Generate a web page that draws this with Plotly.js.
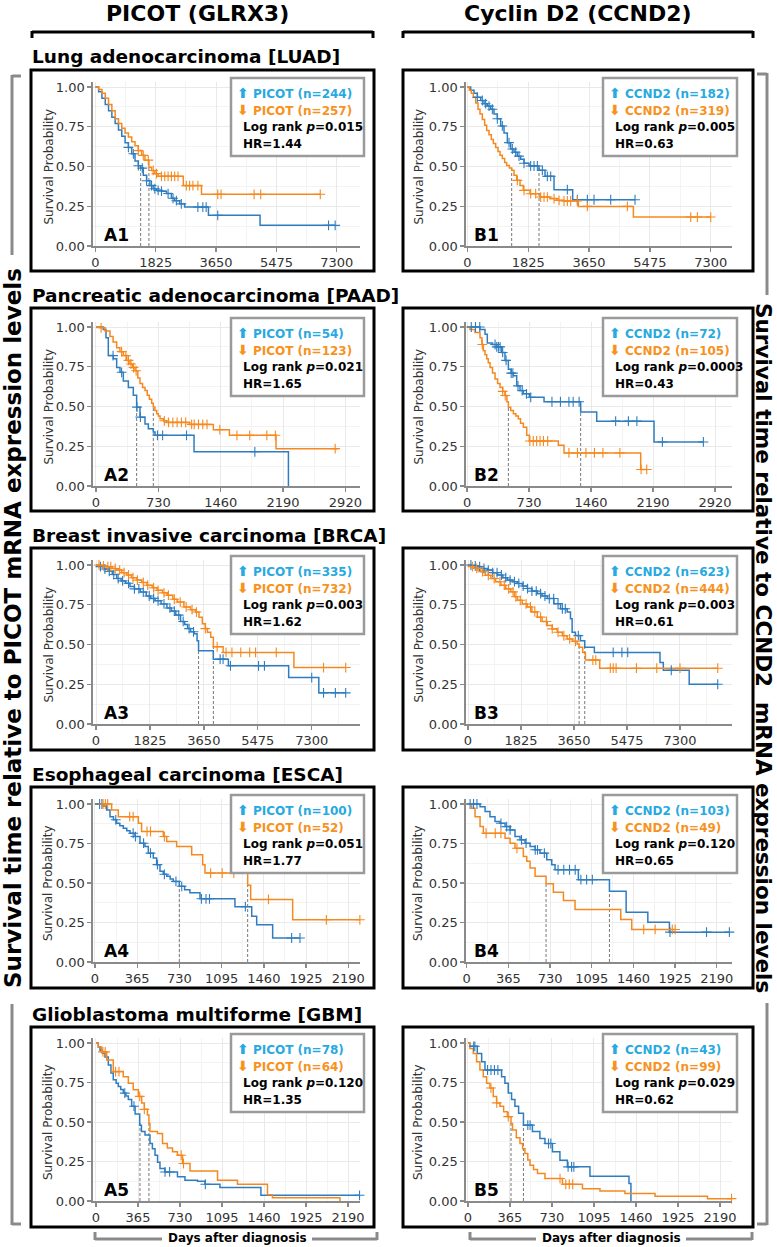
<!DOCTYPE html>
<html><head><meta charset="utf-8">
<script src="https://cdn.plot.ly/plotly-3.0.1.min.js"></script>
<style>body{margin:0;background:#fff}#chart{width:777px;height:1247px}</style>
</head><body><div id="chart"></div><script>
// ---------------- DATA ----------------
const panelLabels = ['A1','B1','A2','B2','A3','B3','A4','B4','A5','B5'];
const rowTitles = ['Lung adenocarcinoma [LUAD]','Pancreatic adenocarcinoma [PAAD]','Breast invasive carcinoma [BRCA]','Esophageal carcinoma [ESCA]','Glioblastoma multiforme [GBM]'];
const genes = ['PICOT','CCND2'];
const nHigh = [244,182,54,72,335,623,100,103,78,43];
const nLow  = [257,319,123,105,732,444,52,49,64,99];
const pVals = ['0.015','0.005','0.021','0.0003','0.003','0.003','0.051','0.120','0.120','0.029'];
const hrVals = ['1.44','0.63','1.65','0.43','1.62','0.61','1.77','0.65','1.35','0.62'];
const ticksLong = [0,1825,3650,5475,7300];
const ticksPAAD = [0,730,1460,2190,2920];
const ticksShort = [0,365,730,1095,1460,1825,2190];
const ticksShortText = ['0','365','730','1095','1460','1925','2190'];
const yTicks = [0,0.25,0.5,0.75,1];
const yTickText = ['0.00','0.25','0.50','0.75','1.00'];
const medHigh = [1371,2150,476,1338,3470,4020,729,1250,382,482];
const medLow  = [1620,1330,671,487,3972,3826,1320,695,460,374];

// A1 LUAD PICOT
const A1_hi_t=[0,100,200,300,400,500,600,700,800,900,1000,1100,1200,1300,1370,1450,1550,1650,1750,1850,2000,2150,2300,2400,2550,2700,3420,4980,7250];
const A1_hi_s=[1,0.97,0.93,0.89,0.85,0.81,0.77,0.73,0.69,0.65,0.62,0.58,0.535,0.505,0.49,0.445,0.41,0.38,0.36,0.35,0.345,0.33,0.30,0.285,0.265,0.245,0.193,0.13,0.13];
const A1_hi_c=[1000,1150,1300,1420,1550,1700,1800,1900,2000,2200,2350,2450,2600,3100,3250,3350,3700,7050,7250];
const A1_lo_t=[0,100,200,300,400,500,600,700,800,900,1000,1100,1200,1300,1400,1500,1620,1700,1800,1900,2660,3210,6800];
const A1_lo_s=[1,0.985,0.96,0.93,0.89,0.85,0.80,0.77,0.74,0.71,0.685,0.655,0.63,0.60,0.57,0.54,0.495,0.475,0.455,0.438,0.38,0.325,0.325];
const A1_lo_c=[1300,1450,1600,1750,1850,2000,2100,2200,2300,2400,2500,2750,2850,2950,3100,3700,3800,4800,5000,6800];
// B1 LUAD CCND2
const B1_hi_t=[0,100,200,300,400,500,600,700,800,900,1000,1100,1200,1300,1400,1500,1600,1700,1850,2150,2330,2600,3160,5030];
const B1_hi_s=[1,0.98,0.96,0.935,0.915,0.895,0.88,0.86,0.83,0.80,0.755,0.71,0.65,0.61,0.59,0.565,0.545,0.52,0.503,0.476,0.438,0.354,0.291,0.291];
const B1_hi_c=[300,450,550,650,750,900,1050,1250,1350,1450,1550,1700,1900,2000,2100,2250,2400,2500,3000,3300,3600,3800,4300,5030];
const B1_lo_t=[0,60,120,180,250,320,380,450,520,580,650,720,780,850,920,980,1050,1120,1180,1260,1330,1400,1480,1580,1680,1880,2180,2480,2680,2880,3330,4980,7300];
const B1_lo_s=[1,0.98,0.96,0.937,0.90,0.86,0.83,0.795,0.76,0.727,0.70,0.67,0.644,0.62,0.595,0.57,0.55,0.525,0.507,0.49,0.476,0.445,0.413,0.38,0.35,0.329,0.308,0.298,0.287,0.283,0.249,0.182,0.182];
const B1_lo_c=[1500,1700,1900,2050,2200,2300,2400,2600,2750,2900,3000,3100,3300,3600,4800,6700,6900,7300];
// A2 PAAD PICOT
const A2_hi_t=[0,86,117,144,203,242,281,320,379,437,476,515,574,613,671,691,1148,2253];
const A2_hi_s=[1,0.985,0.933,0.82,0.80,0.746,0.715,0.66,0.62,0.57,0.496,0.433,0.39,0.36,0.34,0.319,0.215,0];
const A2_hi_c=[200,300,480,520,720,780,1060,1860];
const A2_lo_t=[0,47,105,164,200,242,280,320,360,398,430,457,490,515,545,574,600,625,652,671,690,711,730,750,790,828,1093,1374,1562,2108,2838];
const A2_lo_s=[1,0.995,0.975,0.94,0.905,0.87,0.845,0.82,0.79,0.767,0.745,0.725,0.68,0.645,0.62,0.60,0.57,0.545,0.52,0.497,0.475,0.455,0.44,0.423,0.41,0.40,0.3875,0.354,0.319,0.235,0.235];
const A2_lo_c=[60,300,350,380,410,440,470,800,850,900,950,1000,1050,1120,1150,1200,1250,1300,1450,1650,1800,2000,2100,2800];
// B2 PAAD CCND2
const B2_hi_t=[0,153,212,239,300,349,408,447,487,520,546,585,624,663,734,907,1338,1527,2202,2783];
const B2_hi_s=[1,0.985,0.954,0.90,0.89,0.875,0.84,0.79,0.735,0.71,0.694,0.63,0.60,0.58,0.558,0.53,0.465,0.408,0.277,0.277];
const B2_hi_c=[50,100,150,330,350,370,390,420,460,520,540,600,650,700,750,1000,1100,1200,1250,1320,1750,1900,2000,2300,2783];
const B2_lo_t=[0,35,94,153,175,192,212,232,250,271,300,330,360,389,420,447,470,487,515,546,575,604,630,663,703,734,1075,1142,2045,2116];
const B2_lo_s=[1,0.985,0.965,0.933,0.89,0.85,0.825,0.80,0.775,0.746,0.71,0.673,0.645,0.62,0.595,0.569,0.53,0.496,0.475,0.454,0.44,0.423,0.395,0.37,0.319,0.283,0.256,0.208,0.104,0.104];
const B2_lo_c=[180,420,450,740,780,820,860,900,950,1200,1300,1400,1500,1600,1800,2050,2116];
// A3 BRCA PICOT
const A3_hi_t=[0,100,250,400,550,700,850,1000,1150,1300,1500,1700,1850,2000,2200,2400,2550,2700,2860,3000,3100,3200,3320,3420,3470,3970,4480,6520,7540,8450];
const A3_hi_s=[1,0.99,0.975,0.96,0.94,0.915,0.90,0.885,0.865,0.85,0.83,0.805,0.79,0.775,0.755,0.73,0.71,0.685,0.645,0.625,0.60,0.58,0.567,0.524,0.461,0.408,0.366,0.292,0.196,0.196];
const A3_hi_c=[150,300,450,600,750,900,1100,1300,1450,1600,1800,1950,2100,2300,2500,2650,2800,2950,3150,3300,4200,4300,4550,5500,5700,7300,7700,8100,8450];
const A3_lo_t=[0,200,363,550,704,870,1044,1200,1385,1550,1725,1900,2066,2250,2406,2600,2747,2974,3201,3371,3484,3598,3700,3768,3882,3972,4302,6697,8450];
const A3_lo_s=[1,0.995,0.989,0.978,0.968,0.952,0.937,0.92,0.905,0.89,0.873,0.857,0.841,0.825,0.81,0.785,0.767,0.736,0.719,0.704,0.672,0.63,0.60,0.577,0.545,0.486,0.45,0.355,0.355];
const A3_lo_c=[100,250,400,500,650,800,950,1100,1250,1400,1600,1750,1950,2100,2300,2450,2650,2850,3050,3250,3400,3700,4100,4400,4600,4900,5200,5400,6100,7700,8450];
// B3 BRCA CCND2
const B3_hi_t=[0,150,331,500,674,850,1016,1200,1359,1530,1702,1870,2044,2200,2387,2550,2729,2958,3186,3415,3529,3586,3700,3871,4020,4351,6612,6726,7617,8600];
const B3_hi_s=[1,0.995,0.989,0.978,0.968,0.952,0.937,0.92,0.905,0.895,0.884,0.868,0.852,0.836,0.82,0.805,0.789,0.757,0.725,0.704,0.662,0.577,0.556,0.524,0.482,0.45,0.387,0.338,0.25,0.25];
const B3_hi_c=[100,250,400,550,700,850,1000,1150,1300,1450,1600,1750,1900,2050,2200,2350,2500,2650,2800,2950,3100,3250,3350,3800,5000,5300,5500,7000,8600];
const B3_lo_t=[0,100,217,330,445,600,788,950,1131,1300,1473,1600,1702,1870,2044,2200,2387,2550,2729,2900,3072,3250,3415,3600,3757,3826,3950,4043,4534,8600];
const B3_lo_s=[1,0.99,0.979,0.968,0.958,0.935,0.915,0.895,0.873,0.85,0.831,0.80,0.778,0.755,0.736,0.705,0.672,0.645,0.619,0.598,0.577,0.555,0.535,0.52,0.503,0.482,0.45,0.402,0.351,0.351];
const B3_lo_c=[150,300,500,700,900,1100,1250,1400,1550,1650,1800,2000,2150,2300,2500,2700,2900,3100,3300,3500,3700,4300,4400,4900,5000,5100,5800,6500,7300,8600];
// A4 ESCA PICOT
const A4_hi_t=[0,72,101,130,160,187,215,245,275,303,346,389,432,461,504,533,562,590,620,650,677,729,775,821,908,1210,1355,1398,1536,1772];
const A4_hi_s=[1,0.987,0.962,0.92,0.90,0.878,0.862,0.847,0.83,0.815,0.794,0.752,0.731,0.689,0.658,0.616,0.574,0.555,0.542,0.525,0.51,0.479,0.458,0.4375,0.40,0.35,0.29,0.235,0.152,0.152];
const A4_hi_c=[40,60,180,330,350,420,480,540,600,700,750,920,960,990,1300,1700,1772];
const A4_lo_t=[0,144,202,375,403,591,620,706,836,931,951,1320,1346,1709,2290];
const A4_lo_s=[1,0.962,0.92,0.878,0.826,0.794,0.763,0.731,0.679,0.616,0.563,0.485,0.396,0.267,0.267];
const A4_lo_c=[70,90,110,300,330,450,480,600,1000,1100,1200,1500,2000,2290];
// B4 ESCA CCND2
const B4_hi_t=[0,117,161,204,248,292,336,380,423,467,511,555,599,642,701,745,774,978,1250,1396,1586,1775,2300];
const B4_hi_s=[1,0.983,0.952,0.92,0.889,0.878,0.857,0.836,0.794,0.773,0.752,0.731,0.71,0.689,0.647,0.616,0.584,0.521,0.447,0.315,0.252,0.189,0.189];
const B4_hi_c=[30,60,90,300,350,380,480,520,600,620,680,800,850,900,950,1000,1050,1100,1780,2100,2300];
const B4_lo_t=[0,44,73,117,146,336,380,423,496,526,555,599,695,759,847,949,1349,1445,1825];
const B4_lo_s=[1,0.973,0.92,0.857,0.815,0.784,0.752,0.72,0.668,0.637,0.595,0.542,0.496,0.441,0.389,0.332,0.269,0.206,0.206];
const B4_lo_c=[170,250,300,440,1550,1650,1800,1825];
// A5 GBM PICOT
const A5_hi_t=[0,20,35,55,78,107,130,150,175,194,215,237,260,281,310,340,380,395,426,469,490,513,535,556,599,708,773,882,947,1077,1433,2290];
const A5_hi_s=[1,0.975,0.954,0.935,0.912,0.86,0.81,0.767,0.745,0.725,0.705,0.683,0.665,0.642,0.60,0.55,0.48,0.44,0.417,0.364,0.33,0.29,0.245,0.205,0.184,0.153,0.131,0.125,0.106,0.085,0.036,0.036];
const A5_hi_c=[250,330,600,640,950,2290];
const A5_lo_t=[0,20,49,93,150,237,281,324,368,397,420,447,460,469,534,578,620,665,708,752,817,1056,1229,1490,1533,2120];
const A5_lo_s=[1,0.975,0.944,0.892,0.819,0.787,0.746,0.704,0.662,0.621,0.58,0.545,0.49,0.44,0.428,0.364,0.335,0.311,0.29,0.237,0.19,0.131,0.106,0.04,0.021,0];
const A5_lo_c=[60,80,170,200,380,420,740,760];
// B5 GBM CCND2
const B5_hi_t=[0,17,81,119,148,292,321,350,379,408,440,482,560,625,669,734,799,864,1060,1399,1416];
const B5_hi_s=[1,0.979,0.933,0.881,0.829,0.787,0.746,0.683,0.642,0.60,0.555,0.48,0.44,0.396,0.364,0.311,0.258,0.216,0.157,0.11,0];
const B5_hi_c=[50,60,170,200,230,260,520,540,700,720,870,900,920];
const B5_lo_t=[0,17,46,75,104,133,162,191,220,249,278,310,343,374,387,420,452,475,495,520,539,570,604,669,821,995,1147,1364,1625,2081,2290];
const B5_lo_s=[1,0.965,0.933,0.881,0.829,0.787,0.746,0.715,0.662,0.621,0.60,0.565,0.534,0.49,0.449,0.40,0.364,0.33,0.30,0.26,0.227,0.20,0.174,0.142,0.106,0.078,0.064,0.047,0.03,0.015,0.015];
const B5_lo_c=[200,250,350,800,850,880,910,2290];

const curves = [
 [A1_hi_t,A1_hi_s,A1_hi_c,A1_lo_t,A1_lo_s,A1_lo_c],
 [B1_hi_t,B1_hi_s,B1_hi_c,B1_lo_t,B1_lo_s,B1_lo_c],
 [A2_hi_t,A2_hi_s,A2_hi_c,A2_lo_t,A2_lo_s,A2_lo_c],
 [B2_hi_t,B2_hi_s,B2_hi_c,B2_lo_t,B2_lo_s,B2_lo_c],
 [A3_hi_t,A3_hi_s,A3_hi_c,A3_lo_t,A3_lo_s,A3_lo_c],
 [B3_hi_t,B3_hi_s,B3_hi_c,B3_lo_t,B3_lo_s,B3_lo_c],
 [A4_hi_t,A4_hi_s,A4_hi_c,A4_lo_t,A4_lo_s,A4_lo_c],
 [B4_hi_t,B4_hi_s,B4_hi_c,B4_lo_t,B4_lo_s,B4_lo_c],
 [A5_hi_t,A5_hi_s,A5_hi_c,A5_lo_t,A5_lo_s,A5_lo_c],
 [B5_hi_t,B5_hi_s,B5_hi_c,B5_lo_t,B5_lo_s,B5_lo_c]
];

// ---------------- LAYOUT (pixel geometry) ----------------
const W=777,H=1247;
const X=p=>p/W, Y=p=>1-p/H;
const colPlot=[[93,360],[466,732]];
const colBox=[[31,374],[403,753]];
const rowY=[[87,246],[327,486],[565,724],[804,962],[1043,1201]];
const rowBox=[[70,271],[308,511],[548,750],[787,988],[1027,1227]];
const xRanges=[[-70,8001],[-40,7938],[-35,3091],[-12,3120],[-102,8934],[-69,9091],[-17,2291],[-6,2323],[-26,2294],[-17,2294]];
const YMAX=1.03;
const BLUE='#2E7DC0', ORANGE='#F5891F', LBLUE='#27A9E1', LORANGE='#F7921E';
const FONT='DejaVu Sans, Verdana, sans-serif';

function stepAt(t,s,x){let v=s[0];for(let i=0;i<t.length;i++){if(t[i]<=x)v=s[i];}return v;}
function mids(a){const m=[];for(let i=0;i<a.length-1;i++)m.push((a[i]+a[i+1])/2);m.push(a[a.length-1]+(a[1]-a[0])/2);return m;}

const traces=[], shapes=[], annotations=[];
const layout={width:W,height:H,margin:{l:0,r:0,t:0,b:0},showlegend:false,paper_bgcolor:'#fff',plot_bgcolor:'#fff',font:{family:FONT},shapes,annotations};
const axBase={showline:true,linecolor:'#8a8a8a',linewidth:1.6,ticks:'outside',ticklen:4,tickwidth:1.3,tickcolor:'#8a8a8a',
  tickfont:{size:13,color:'#333',family:FONT},showgrid:true,gridcolor:'#e9e9e9',gridwidth:1,zeroline:false,fixedrange:true};

function L(x0,y0,x1,y1,color,width){shapes.push({type:'line',xref:'paper',yref:'paper',x0:X(x0),y0:Y(y0),x1:X(x1),y1:Y(y1),line:{color,width}});}
function ann(x,y,text,o){annotations.push(Object.assign({xref:'paper',yref:'paper',x:X(x),y:Y(y),text,showarrow:false,xanchor:'left',yanchor:'middle',font:{family:FONT,size:12,color:'#000'}},o||{}));}

for(let k=0;k<10;k++){
  const r=Math.floor(k/2), c=k%2, n=k+1;
  const xn='x'+(n>1?n:''), yn='y'+(n>1?n:'');
  const [y1,y0]=rowY[r];
  const tv = r===0||r===2 ? ticksLong : (r===1 ? ticksPAAD : ticksShort);
  const tt = r>=3 ? ticksShortText : tv.map(String);
  layout['xaxis'+(n>1?n:'')]=Object.assign({},axBase,{domain:[X(colPlot[c][0]),X(colPlot[c][1])],range:xRanges[k],anchor:yn,
     tickmode:'array',tickvals:tv,ticktext:tt,minor:{tickmode:'array',tickvals:mids(tv),showgrid:true,gridcolor:'#f3f3f3',ticks:''}});
  layout['yaxis'+(n>1?n:'')]=Object.assign({},axBase,{domain:[Y(y0),Y(y0-YMAX*(y0-y1))],range:[0,YMAX],anchor:xn,
     tickmode:'array',tickvals:yTicks,ticktext:yTickText,minor:{tickmode:'array',tickvals:[0.125,0.375,0.625,0.875],showgrid:true,gridcolor:'#f3f3f3',ticks:''}});
  const [ht,hs,hc,lt,ls,lc]=curves[k];
  [medHigh[k],medLow[k]].forEach(m=>traces.push({type:'scatter',mode:'lines',x:[m,m],y:[0,0.5],xaxis:xn,yaxis:yn,line:{color:'#777',width:1,dash:'3px,2px'},hoverinfo:'skip'}));
  traces.push({type:'scatter',mode:'lines',x:ht,y:hs,xaxis:xn,yaxis:yn,line:{color:BLUE,width:1.5,shape:'hv'},cliponaxis:false});
  traces.push({type:'scatter',mode:'lines',x:lt,y:ls,xaxis:xn,yaxis:yn,line:{color:ORANGE,width:1.5,shape:'hv'},cliponaxis:false});
  traces.push({type:'scatter',mode:'markers',x:hc,y:hc.map(v=>stepAt(ht,hs,v)),xaxis:xn,yaxis:yn,marker:{symbol:'cross-thin',size:7,line:{color:BLUE,width:1.1}},cliponaxis:false});
  traces.push({type:'scatter',mode:'markers',x:lc,y:lc.map(v=>stepAt(lt,ls,v)),xaxis:xn,yaxis:yn,marker:{symbol:'cross-thin',size:7,line:{color:ORANGE,width:1.1}},cliponaxis:false});

  shapes.push({type:'rect',xref:'paper',yref:'paper',x0:X(colBox[c][0]),x1:X(colBox[c][1]),y0:Y(rowBox[r][1]),y1:Y(rowBox[r][0]),line:{color:'#000',width:3}});
  const lx = c===0?[231,364]:[603,737];
  shapes.push({type:'rect',xref:'paper',yref:'paper',layer:'above',x0:X(lx[0]),x1:X(lx[1]),y0:Y(y1+69),y1:Y(y1-9),line:{color:'#9a9a9a',width:2.5},fillcolor:'#fff'});
  const g=genes[c];
  ann(lx[0]+4,y1+6,'<b><span style="font-size:14px">⬆</span> '+g+' (n='+nHigh[k]+')</b>',{font:{family:FONT,size:12,color:LBLUE}});
  ann(lx[0]+4,y1+23,'<b><span style="font-size:14px">⬇</span> '+g+' (n='+nLow[k]+')</b>',{font:{family:FONT,size:12,color:LORANGE}});
  ann(lx[0]+10,y1+40,'<b>Log rank <i>p</i>='+pVals[k]+'</b>',{font:{family:FONT,size:12,color:'#000'}});
  ann(lx[0]+10,y1+57,'<b>HR='+hrVals[k]+'</b>',{font:{family:FONT,size:12,color:'#000'}});
  ann(c===0?102:472,y0-11,'<b>'+panelLabels[k]+'</b>',{font:{family:FONT,size:17,color:'#000'}});
  ann(c===0?48:418,(y0+y1)/2,'Survival Probability',{xanchor:'center',textangle:-90,font:{family:FONT,size:12,color:'#333'}});
}
for(let r=0;r<5;r++) ann(30,rowBox[r][0]-13,'<b>'+rowTitles[r]+'</b>',{font:{family:FONT,size:18.5,color:'#000'}});
ann(197,13,'<b>PICOT (GLRX3)</b>',{xanchor:'center',font:{family:FONT,size:22,color:'#000'}});
ann(578,13,'<b>Cyclin D2 (CCND2)</b>',{xanchor:'center',font:{family:FONT,size:22,color:'#000'}});
L(32,32,373,32,'#000',3); L(32,31,32,38,'#000',3); L(373,31,373,38,'#000',3);
L(403,32,753,32,'#000',3); L(403,31,403,38,'#000',3); L(753,31,753,38,'#000',3);
ann(13,628,'<b>Survival time relative to PICOT mRNA expression levels</b>',{xanchor:'center',textangle:-90,font:{family:FONT,size:23,color:'#000'}});
ann(764,648,'<b>Survival time relative to CCND2  mRNA expression levels</b>',{xanchor:'center',textangle:90,font:{family:FONT,size:21.5,color:'#000'}});
const GR='#8a8a8a';
L(12,75,12,255,GR,3); L(12,76,21,76,GR,3); L(12,1004,12,1225,GR,3); L(12,1224,21,1224,GR,3);
L(767,73,767,295,GR,3); L(767,74,757,74,GR,3); L(767,1003,767,1225,GR,3); L(767,1224,757,1224,GR,3);
ann(237,1238,'<b>Days after diagnosis</b>',{xanchor:'center',font:{family:FONT,size:12,color:'#000'}});
ann(611,1238,'<b>Days after diagnosis</b>',{xanchor:'center',font:{family:FONT,size:12,color:'#000'}});
L(95,1239,162,1239,GR,3); L(312,1239,377,1239,GR,3); L(95,1232,95,1240,GR,3); L(377,1232,377,1240,GR,3);
L(470,1239,536,1239,GR,3); L(686,1239,752,1239,GR,3); L(470,1232,470,1240,GR,3); L(752,1232,752,1240,GR,3);

Plotly.newPlot('chart',traces,layout,{staticPlot:true});
</script></body></html>
